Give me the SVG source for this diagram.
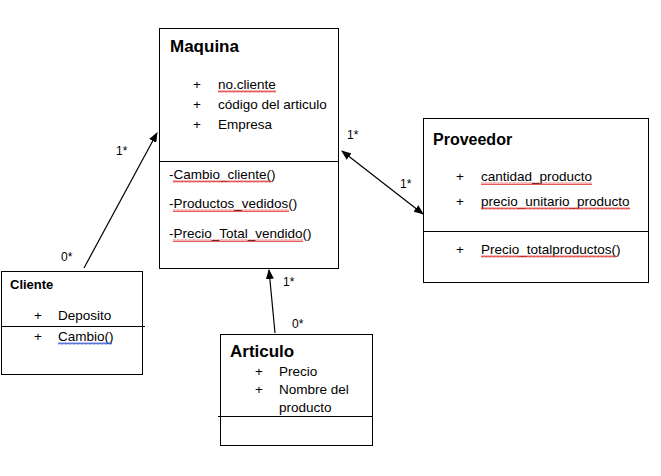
<svg xmlns="http://www.w3.org/2000/svg" width="661" height="476" viewBox="0 0 661 476">
<defs>
<style>
.box{fill:#fff;stroke:#000;stroke-width:1}
.ln{stroke:#000;stroke-width:1;fill:none}
.t{font-family:"Liberation Sans",Arial,sans-serif;font-size:13.5px;fill:#000}
.tb{font-family:"Liberation Sans",Arial,sans-serif;font-weight:bold;fill:#000}
.lbl{font-family:"Liberation Sans",Arial,sans-serif;font-size:12px;fill:#000}
.conn{stroke:#000;stroke-width:1.2;fill:none}
.sq{fill:url(#wavy)}
.sqb{fill:url(#wavyb)}
</style>
<pattern id="wavy" width="4" height="3" patternUnits="userSpaceOnUse">
<path d="M0,2.5 L1,0.5 L2,2.5 L3,0.5 L4,2.5" stroke="#e03030" stroke-width="0.8" fill="none"/>
</pattern>
<pattern id="wavyb" width="4" height="3" patternUnits="userSpaceOnUse">
<path d="M0,2.5 L1,0.5 L2,2.5 L3,0.5 L4,2.5" stroke="#3050d0" stroke-width="0.8" fill="none"/>
</pattern>
<marker id="ah" markerWidth="10" markerHeight="8" refX="9" refY="4" orient="auto" markerUnits="userSpaceOnUse">
<path d="M0,0 L10,4 L0,8 z" fill="#000"/>
</marker>
<marker id="ahs" markerWidth="10" markerHeight="8" refX="1" refY="4" orient="auto" markerUnits="userSpaceOnUse">
<path d="M10,0 L0,4 L10,8 z" fill="#000"/>
</marker>
</defs>
<rect width="661" height="476" fill="#fff"/>

<g id="connectors">
<line class="conn" x1="84" y1="268" x2="157" y2="133" marker-end="url(#ah)"/>
<line class="conn" x1="342" y1="151" x2="423" y2="214" marker-start="url(#ahs)" marker-end="url(#ah)"/>
<line class="conn" x1="275" y1="333" x2="269" y2="270" marker-end="url(#ah)"/>
<text class="lbl" x="116" y="155">1*</text>
<text class="lbl" x="61" y="261">0*</text>
<text class="lbl" x="347" y="139">1*</text>
<text class="lbl" x="400" y="188">1*</text>
<text class="lbl" x="283" y="286">1*</text>
<text class="lbl" x="292" y="328">0*</text>
</g>

<g id="maquina">
<rect class="box" x="159.5" y="28.5" width="179" height="240"/>
<line class="ln" x1="159" y1="161.5" x2="338" y2="161.5"/>
<text class="tb" x="170" y="52" font-size="17">Maquina</text>
<text class="t" x="193" y="89">+</text>
<text class="t" x="218" y="89">no.cliente</text>
<rect class="sq" x="218" y="90" width="58" height="3"/>
<text class="t" x="193" y="109">+</text>
<text class="t" x="218" y="109">código del articulo</text>
<text class="t" x="193" y="129">+</text>
<text class="t" x="218" y="129">Empresa</text>
<text class="t" x="169" y="179">-Cambio_cliente()</text>
<rect class="sq" x="173" y="180" width="98" height="3"/>
<text class="t" x="169" y="208">-Productos_vedidos()</text>
<rect class="sq" x="173" y="209" width="116" height="3"/>
<text class="t" x="169" y="238">-Precio_Total_vendido()</text>
<rect class="sq" x="173" y="239" width="130" height="3"/>
</g>

<g id="proveedor">
<rect class="box" x="423.5" y="118.5" width="225" height="164"/>
<line class="ln" x1="423" y1="231.5" x2="648" y2="231.5"/>
<text class="tb" x="433" y="145" font-size="16">Proveedor</text>
<text class="t" x="456" y="181">+</text>
<text class="t" x="481" y="181">cantidad_producto</text>
<rect class="sq" x="481" y="182" width="111" height="3"/>
<text class="t" x="456" y="206">+</text>
<text class="t" x="481" y="206">precio_unitario_producto</text>
<rect class="sq" x="481" y="207" width="149" height="3"/>
<text class="t" x="456" y="254">+</text>
<text class="t" x="481" y="254">Precio_totalproductos()</text>
<rect class="sq" x="481" y="255" width="135" height="3"/>
</g>

<g id="cliente">
<rect class="box" x="1.5" y="271.5" width="141" height="103"/>
<line class="ln" x1="1" y1="326.5" x2="145" y2="326.5"/>
<text class="tb" x="10" y="289" font-size="13">Cliente</text>
<text class="t" x="34" y="320">+</text>
<text class="t" x="58" y="320">Deposito</text>
<text class="t" x="34" y="341">+</text>
<text class="t" x="58" y="341">Cambio()</text>
<rect class="sqb" x="58" y="342" width="54" height="3"/>
</g>

<g id="articulo">
<rect class="box" x="220.5" y="334.5" width="152" height="111"/>
<line class="ln" x1="218" y1="416.5" x2="373" y2="416.5"/>
<text class="tb" x="230" y="357" font-size="17">Articulo</text>
<text class="t" x="255" y="376">+</text>
<text class="t" x="279" y="376">Precio</text>
<text class="t" x="255" y="394">+</text>
<text class="t" x="279" y="394">Nombre del</text>
<text class="t" x="279" y="412">producto</text>
</g>
</svg>
